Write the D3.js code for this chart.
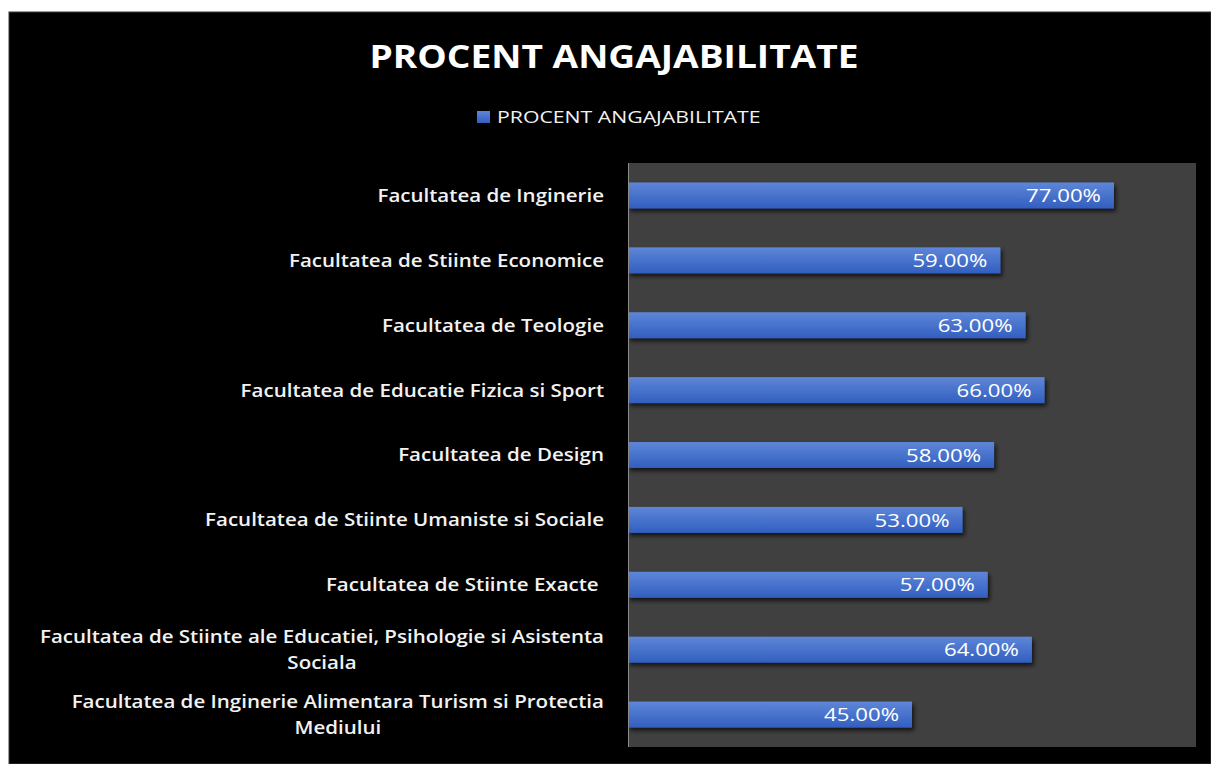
<!DOCTYPE html>
<html>
<head>
<meta charset="utf-8">
<script src="https://cdn.jsdelivr.net/npm/d3@7"></script>
<style>
  html, body { margin: 0; padding: 0; background: #ffffff; }
  svg { display: block; }
  text { font-family: "Open Sans", Lato, sans-serif; }
</style>
</head>
<body>
<svg id="chart" width="1211" height="764"></svg>
<script>
// Employment rate per faculty (percent)
const chartTitle = "PROCENT ANGAJABILITATE";
const seriesName = "PROCENT ANGAJABILITATE";
const categories = [
  ["Facultatea de Inginerie"],
  ["Facultatea de Stiinte Economice"],
  ["Facultatea de Teologie"],
  ["Facultatea de Educatie Fizica si Sport"],
  ["Facultatea de Design"],
  ["Facultatea de Stiinte Umaniste si Sociale"],
  ["Facultatea de Stiinte Exacte "],
  ["Facultatea de Stiinte ale Educatiei, Psihologie si Asistenta", "Sociala"],
  ["Facultatea de Inginerie Alimentara Turism si Protectia", "Mediului"]
];
const values = [77, 59, 63, 66, 58, 53, 57, 64, 45];
const axisMax = 90;

const svg = d3.select("#chart");
const W = 1211, H = 764;

// outer frame
svg.append("rect").attr("x", 0).attr("y", 0).attr("width", W).attr("height", H).attr("fill", "#ffffff");
svg.append("rect").attr("x", 9).attr("y", 12).attr("width", W - 9).attr("height", H - 12)
  .attr("fill", "#000000").attr("stroke", "#3a3a3a").attr("stroke-width", 1);

const plot = { left: 628, right: 1196, top: 163, bottom: 747 };

const defs = svg.append("defs");
const grad = defs.append("linearGradient").attr("id", "barGrad")
  .attr("x1", 0).attr("y1", 0).attr("x2", 0).attr("y2", 1);
grad.append("stop").attr("offset", "0%").attr("stop-color", "#5e86d8");
grad.append("stop").attr("offset", "100%").attr("stop-color", "#325fc0");

const shadow = defs.append("filter").attr("id", "barShadow")
  .attr("x", "-5%").attr("y", "-30%").attr("width", "115%").attr("height", "180%");
shadow.append("feDropShadow").attr("dx", 2).attr("dy", 3).attr("stdDeviation", 2)
  .attr("flood-color", "#000000").attr("flood-opacity", 0.7);

const legendSquare = defs.append("linearGradient").attr("id", "legGrad")
  .attr("x1", 0).attr("y1", 0).attr("x2", 0).attr("y2", 1);
legendSquare.append("stop").attr("offset", "0%").attr("stop-color", "#5e86d8");
legendSquare.append("stop").attr("offset", "100%").attr("stop-color", "#325fc0");

// text in this chart is set in a slightly widened face
const wide = (x, y, sx) => `translate(${x},${y}) scale(${sx},1)`;

// title
svg.append("text")
  .attr("transform", wide(614, 68, 1.16))
  .attr("text-anchor", "middle")
  .attr("fill", "#ffffff")
  .attr("font-size", 32)
  .attr("font-weight", 700)
  .text(chartTitle);

// legend
svg.append("rect").attr("x", 477).attr("y", 111).attr("width", 13).attr("height", 12).attr("fill", "url(#legGrad)");
svg.append("text")
  .attr("transform", wide(497, 123, 1.25))
  .attr("fill", "#f2f2f2")
  .attr("font-size", 17)
  .text(seriesName);

// plot area
svg.append("rect")
  .attr("x", plot.left).attr("y", plot.top)
  .attr("width", plot.right - plot.left).attr("height", plot.bottom - plot.top)
  .attr("fill", "#404040");

const x = d3.scaleLinear().domain([0, axisMax]).range([plot.left, plot.right]);
const y = d3.scaleBand().domain(d3.range(categories.length))
  .range([plot.top, plot.bottom]).paddingInner(0.6).paddingOuter(0.3);

// bars
const bars = svg.append("g");
bars.selectAll("rect").data(values).join("rect")
  .attr("x", x(0))
  .attr("y", (d, i) => y(i))
  .attr("width", d => x(d) - x(0))
  .attr("height", y.bandwidth())
  .attr("fill", "url(#barGrad)")
  .attr("filter", "url(#barShadow)");

// value labels inside bar ends
svg.append("g").selectAll("text").data(values).join("text")
  .attr("transform", (d, i) => wide(x(d) - 13, y(i) + y.bandwidth() / 2, 1.2))
  .attr("dy", "0.36em")
  .attr("text-anchor", "end")
  .attr("fill", "#ffffff")
  .attr("font-size", 18.5)
  .text(d => d.toFixed(2) + "%");

// vertical category axis line
svg.append("line")
  .attr("x1", plot.left + 0.5).attr("x2", plot.left + 0.5)
  .attr("y1", plot.top).attr("y2", plot.bottom)
  .attr("stroke", "#8c8c8c").attr("stroke-width", 1);

// category labels: wrapped lines centred on each other, block right-aligned
const labelRight = 604;
const lineH = 26;
const labelG = svg.append("g");
categories.forEach((lines, i) => {
  const cy = y(i) + y.bandwidth() / 2;
  const g = labelG.append("g").attr("transform", wide(labelRight, cy, 1.14));
  const t = g.append("text")
    .attr("fill", "#f2f2f2")
    .attr("font-size", 18)
    .attr("font-weight", 600)
    .style("white-space", "pre");
  const n = lines.length;
  const spans = lines.map((ln, k) => t.append("tspan")
    .attr("y", (k - (n - 1) / 2) * lineH)
    .attr("dy", "0.36em")
    .text(ln));
  // measure widest line, then centre all lines within the right-aligned block
  const widths = spans.map(s => s.node().getComputedTextLength());
  const maxW = d3.max(widths);
  spans.forEach(s => s.attr("x", -maxW / 2).attr("text-anchor", "middle"));
});
</script>
</body>
</html>
